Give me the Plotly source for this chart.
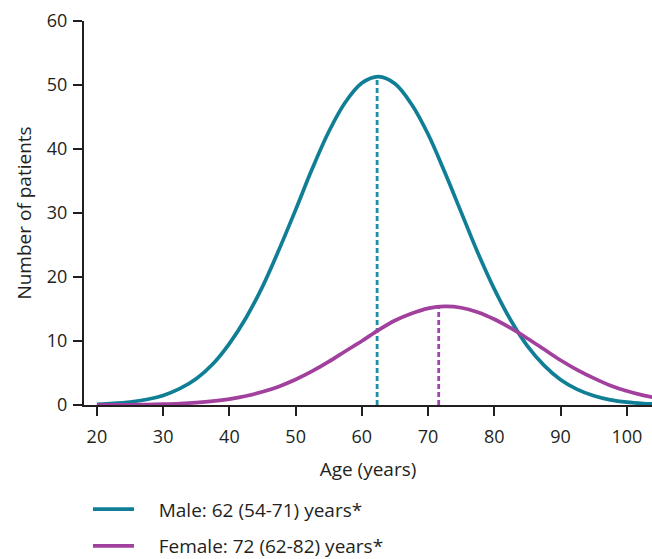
import plotly.graph_objects as go

# Age grid (years) and curve values
age = [20, 22.5, 25, 27.5, 30, 32.5, 35, 37.5, 40, 42.5, 45, 47.5, 50, 52.5, 55, 57.5,
       60, 62.5, 65, 67.5, 70, 72.5, 75, 77.5, 80, 82.5, 85, 87.5, 90, 92.5, 95, 97.5,
       100, 102.5, 104]
male = [0.12, 0.24, 0.47, 0.86, 1.5, 2.55, 4.1, 6.4, 9.6, 13.6, 18.5, 24.3, 30.5, 36.9,
        42.7, 47.3, 50.3, 51.3, 50.2, 47.0, 42.3, 36.4, 30.1, 23.8, 18.1, 13.2, 9.2, 6.2,
        3.96, 2.45, 1.45, 0.81, 0.44, 0.23, 0.16]
female = [0.01, 0.02, 0.04, 0.07, 0.13, 0.22, 0.37, 0.6, 0.93, 1.41, 2.06, 2.9, 3.98,
          5.28, 6.77, 8.4, 10.0, 11.7, 13.2, 14.3, 15.1, 15.4, 15.2, 14.5, 13.4, 12.0,
          10.4, 8.7, 7.0, 5.5, 4.2, 3.06, 2.18, 1.5, 1.18]

# Median markers (x position, top of dashed line)
median_x = [62.3, 71.6]
median_top = [51.3, 15.4]

series_names = ["Male: 62 (54-71) years*", "Female: 72 (62-82) years*"]
x_ticks = [20, 30, 40, 50, 60, 70, 80, 90, 100]
y_ticks = [0, 10, 20, 30, 40, 50, 60]

TEAL = "#107f96"
MAGENTA = "#a2409e"
TEAL_D = "#1d8ea5"
MAG_D = "#9a45a8"
TXT = "#231f20"
FONT = "Open Sans"
PAD = "\u00a0" * 4

fig = go.Figure()
fig.add_trace(go.Scatter(x=[median_x[0], median_x[0]], y=[0, median_top[0]], mode="lines",
                         line=dict(color=TEAL_D, width=2.8, dash="5px,3px"),
                         showlegend=False, hoverinfo="skip"))
fig.add_trace(go.Scatter(x=[median_x[1], median_x[1]], y=[0, median_top[1]], mode="lines",
                         line=dict(color=MAG_D, width=2.8, dash="5px,3px"),
                         showlegend=False, hoverinfo="skip"))
fig.add_trace(go.Scatter(x=age, y=male, mode="lines", name=PAD + series_names[0],
                         line=dict(color=TEAL, width=3.7, shape="spline"),
                         legendgroup="m"))
fig.add_trace(go.Scatter(x=age, y=female, mode="lines", name=PAD + series_names[1],
                         line=dict(color=MAGENTA, width=3.7, shape="spline"),
                         legendgroup="f"))

fig.update_layout(
    width=652, height=559,
    margin=dict(l=84, r=0, t=21, b=154, autoexpand=False),
    plot_bgcolor="white", paper_bgcolor="white",
    font=dict(family=FONT, size=18, color=TXT),
    legend=dict(x=0.007, xanchor="left", yref="container", y=0.123, yanchor="top",
                font=dict(size=19, color=TXT), traceorder="grouped",
                tracegroupgap=9, itemwidth=41, bgcolor="rgba(0,0,0,0)"),
    xaxis=dict(range=[18.05, 103.8], tickvals=x_ticks, ticks="outside", ticklen=9,
               tickwidth=2, tickcolor=TXT, showline=True, linecolor=TXT, linewidth=2,
               showgrid=False, zeroline=False, tickfont=dict(size=18, color=TXT),
               ticklabelstandoff=5,
               title=dict(text="Age (years)", font=dict(size=19, color=TXT), standoff=16)),
    yaxis=dict(range=[0, 60], tickvals=y_ticks, ticks="outside", ticklen=9,
               tickwidth=2, tickcolor=TXT, showline=True, linecolor=TXT, linewidth=2,
               showgrid=False, zeroline=False, tickfont=dict(size=18, color=TXT),
               ticklabelstandoff=2,
               title=dict(text="Number of patients", font=dict(size=19, color=TXT), standoff=10)),
)

fig.write_html("out.html")
